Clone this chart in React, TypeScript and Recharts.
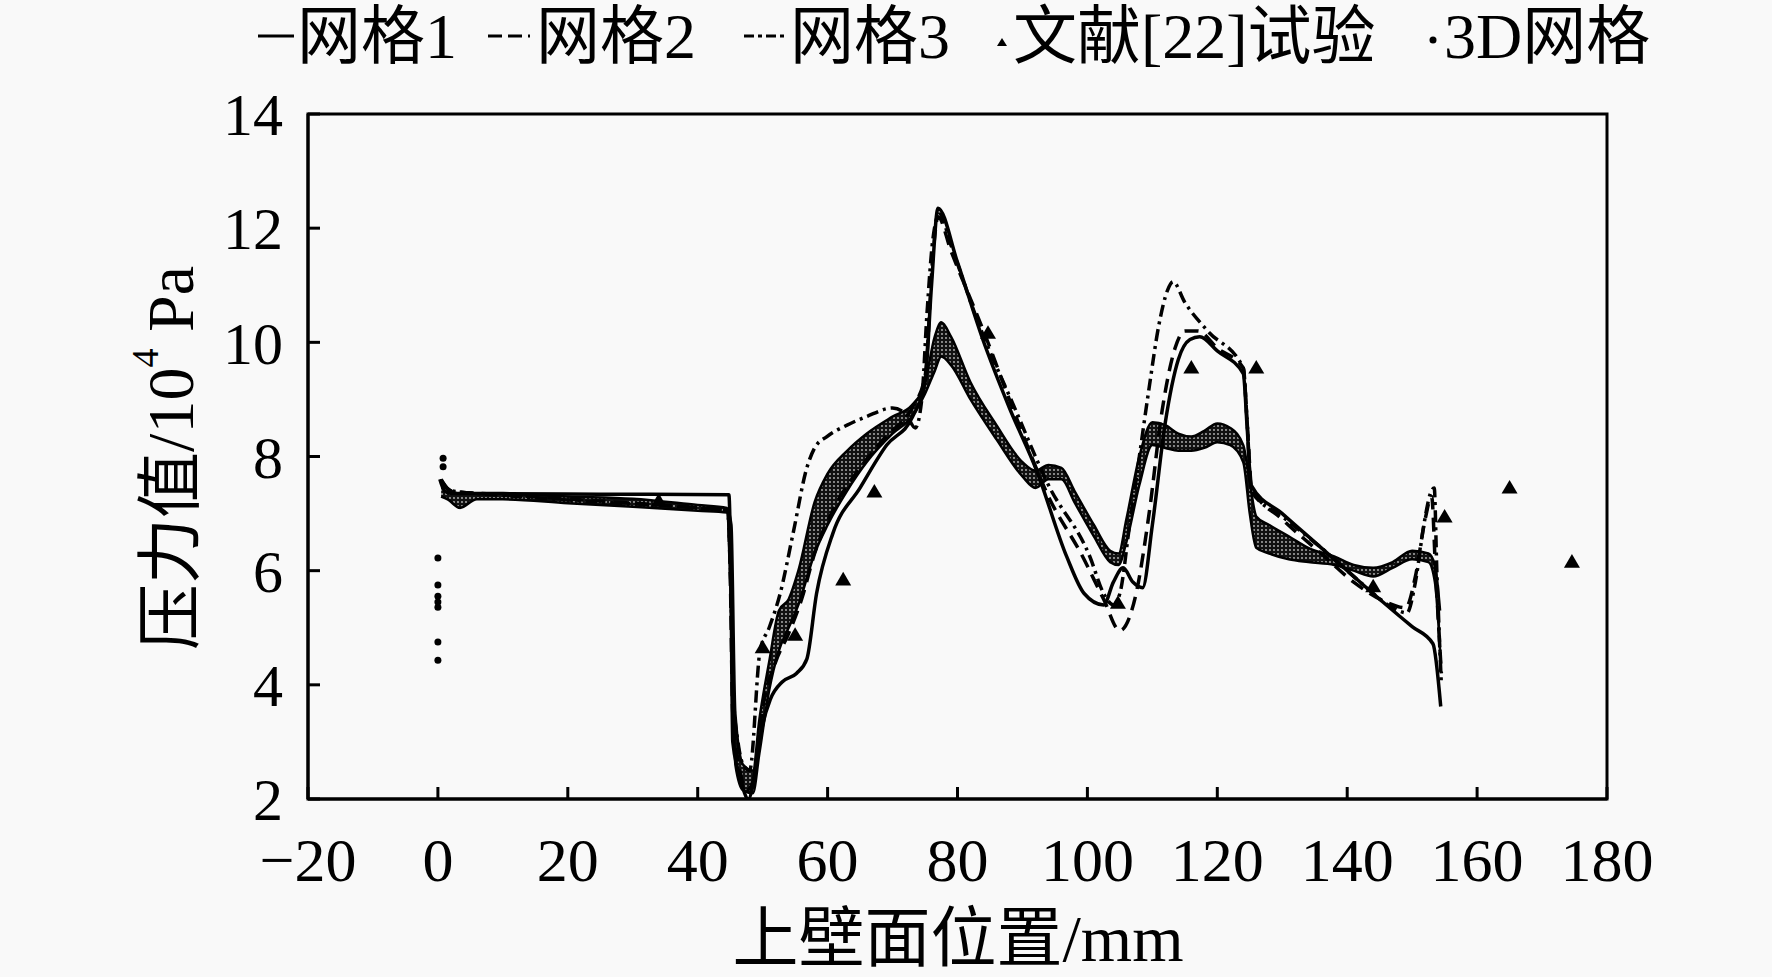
import React from 'react';
import {
  Area,
  ComposedChart,
  Line,
  ReferenceArea,
  Scatter,
  XAxis,
  YAxis,
} from 'recharts';

document.body.style.margin = '0';

const SERIF = "'Liberation Serif', 'Times New Roman', 'Noto Sans CJK SC', serif";

const xTicks = [-20, 0, 20, 40, 60, 80, 100, 120, 140, 160, 180];
const yTicks = [2, 4, 6, 8, 10, 12, 14];

// 网格1 — solid
const mesh1: [number, number][] = [
  [0.3, 7.6], [1, 7.4], [2, 7.35], [10, 7.35], [25, 7.34], [44.8, 7.33],
  [45.1, 6.0], [45.4, 3.0], [46.5, 2.4], [47.8, 2.0], [49, 2.6], [50, 3.3],
  [51.2, 3.75], [53, 4.05], [55.2, 4.2], [56.8, 4.45], [58.3, 5.6], [60.8, 6.65],
  [65, 7.45], [69.1, 8.2], [73.1, 8.7], [75, 9.3], [76, 11.0], [77, 12.35],
  [80, 11.4], [83.9, 10.05], [88, 8.85], [92.2, 7.75], [96.8, 6.25], [99.5, 5.6],
  [102.5, 5.4], [104, 5.8], [105.5, 6.05], [107, 5.8], [108.5, 5.7], [110, 6.8],
  [112, 8.6], [114, 9.7], [115.8, 10.05], [117.3, 10.1], [120, 9.85], [124, 9.45],
  [124.6, 8.5], [125.2, 7.5], [130, 7.0], [135, 6.5], [140, 6.0], [145, 5.5],
  [150, 5.02], [153.2, 4.72], [154.4, 3.62],
];

// 网格2 — dashed
const mesh2: [number, number][] = [
  [0.5, 7.55], [2, 7.4], [10, 7.33], [25, 7.22], [40, 7.1], [44.6, 7.05],
  [45, 6.0], [45.4, 3.5], [46.5, 2.5], [47.5, 2.15], [48.5, 2.3], [50, 3.6],
  [52, 4.4], [54, 4.9], [56, 5.5], [58, 6.3], [61, 7.1], [65, 7.8], [69, 8.35],
  [73, 8.85], [75, 9.4], [76.2, 11.5], [77, 12.2], [79, 11.6], [84, 10.2],
  [89, 8.7], [94, 7.3], [99.3, 6.24], [102.5, 5.5], [105, 4.95], [107.5, 5.6],
  [109.5, 7.0], [111.5, 8.8], [113.5, 9.9], [115, 10.2], [117, 10.2], [120, 9.9],
  [124, 9.55], [124.6, 8.6], [125.3, 7.45], [130, 6.9], [136, 6.3], [141, 5.8],
  [146, 5.45], [149, 5.35], [150.5, 5.9], [152, 6.9], [153, 7.3], [153.6, 6.0],
  [154.5, 4.2],
];

// 网格3 — dash dot
const mesh3: [number, number][] = [
  [0.5, 7.6], [2, 7.4], [10, 7.32], [25, 7.2], [40, 7.1], [44.6, 7.05],
  [45, 6.2], [45.5, 3.8], [46.2, 3.0], [47, 2.6], [48, 2.5], [49.6, 4.6],
  [51, 5.0], [52.7, 5.6], [54.7, 6.66], [56.8, 7.8], [58, 8.15], [59.9, 8.35],
  [63, 8.55], [66, 8.7], [70, 8.85], [72, 8.75], [73.5, 8.5], [74.5, 9.0],
  [75.3, 10.5], [76.2, 11.8], [77.2, 12.25], [79, 11.7], [83, 10.4], [89, 8.8],
  [94, 7.5], [100.4, 6.24], [102.5, 5.6], [104, 5.4], [105, 5.6], [106.5, 6.8],
  [108, 8.0], [109.5, 9.2], [111, 10.3], [112.3, 10.9], [113.2, 11.06], [115, 10.7],
  [118.5, 10.2], [124, 9.55], [124.6, 8.6], [125.2, 7.4], [130, 6.95], [136, 6.4],
  [142, 5.8], [147, 5.35], [149.2, 5.26], [150.5, 5.8], [151.8, 6.8], [152.8, 7.35],
  [153.4, 7.45], [153.8, 6.0], [154.5, 4.0],
];

// 文献[22]试验
const experiment: [number, number][] = [
  [34, 7.22], [50, 4.65], [55, 4.87], [62.4, 5.84], [67.2, 7.38], [84.7, 10.16],
  [104.7, 5.43], [116, 9.55], [126, 9.55], [144, 5.72], [155, 6.94], [165, 7.45],
  [174.6, 6.15],
];

// 3D网格 band: x, low, high
const band3d: [number, number, number][] = [
  [0.5, 7.3, 7.6], [1.5, 7.25, 7.45], [3.4, 7.1, 7.35], [6, 7.25, 7.35],
  [10, 7.25, 7.35], [20, 7.18, 7.3], [30, 7.12, 7.26], [40, 7.05, 7.15],
  [44.5, 7.02, 7.1], [45.2, 5.0, 6.8], [45.8, 2.6, 3.5], [47, 2.15, 2.6],
  [48.5, 2.1, 2.5], [49.5, 2.8, 3.4], [51, 3.9, 4.4], [52.5, 4.6, 5.3],
  [54, 5.0, 5.5], [55.5, 5.4, 6.0], [58, 6.3, 7.2], [60, 6.8, 7.7],
  [63, 7.4, 8.1], [66, 7.9, 8.4], [70, 8.4, 8.7], [73, 8.7, 8.9],
  [75, 9.1, 9.3], [76.5, 9.5, 10.1], [77.5, 9.75, 10.35], [79, 9.6, 10.1],
  [82, 9.0, 9.3], [86, 8.3, 8.55], [90, 7.65, 7.9], [92, 7.45, 7.75],
  [94, 7.6, 7.85], [96, 7.6, 7.8], [98, 7.2, 7.4], [101, 6.6, 6.8],
  [103.5, 6.15, 6.35], [104.8, 6.1, 6.3], [106, 6.5, 6.9], [108, 7.5, 8.0],
  [110, 8.2, 8.6], [112, 8.15, 8.55], [114, 8.1, 8.4], [116, 8.1, 8.35],
  [118, 8.15, 8.45], [120, 8.25, 8.58], [122, 8.2, 8.5], [124, 7.9, 8.2],
  [125, 7.0, 7.55], [126, 6.4, 6.95], [128, 6.3, 6.8], [131, 6.2, 6.6],
  [134, 6.15, 6.4], [138, 6.1, 6.25], [141, 6.0, 6.1], [144, 5.9, 6.05],
  [147, 6.05, 6.15], [150, 6.2, 6.35], [152.5, 6.15, 6.3], [153.5, 5.8, 6.1],
  [154.3, 4.6, 5.3],
];

// 3D网格 stray points near the inlet
const points3d: [number, number][] = [
  [0, 4.43], [0, 4.75], [0, 5.36], [0, 5.45], [0, 5.55], [0, 5.75], [0, 6.22],
  [0.8, 7.82], [0.8, 7.97],
];

const toPts = (a: [number, number][]) => a.map(([x, y]) => ({ x, y }));
const bandPts = band3d.map(([x, lo, hi]) => ({ x, band: [lo, hi] }));

const Triangle = (props: any) => {
  const { cx, cy } = props;
  if (cx == null || cy == null) return null;
  const s = 8;
  return <polygon points={`${cx},${cy - s} ${cx - s},${cy + s * 0.7} ${cx + s},${cy + s * 0.7}`} fill="#000" />;
};

const Dot = (props: any) => {
  const { cx, cy } = props;
  if (cx == null || cy == null) return null;
  return <circle cx={cx} cy={cy} r={3.5} fill="#000" />;
};

const fmtX = (v: number) => (v < 0 ? `\u2212${-v}` : `${v}`);

function ChartLegend() {
  const y = 36;
  const textStyle: React.CSSProperties = { fontFamily: SERIF, fontSize: 64, fill: '#000' };
  return (
    <svg width={1772} height={80} style={{ position: 'absolute', top: 0, left: 0 }}>
      <line x1={258} x2={294} y1={y} y2={y} stroke="#000" strokeWidth={3} />
      <text x={297} y={y} dominantBaseline="central" style={textStyle}>网格1</text>
      <line x1={488} x2={530} y1={y} y2={y} stroke="#000" strokeWidth={3} strokeDasharray="14 6" />
      <text x={536} y={y} dominantBaseline="central" style={textStyle}>网格2</text>
      <line x1={744} x2={788} y1={y} y2={y} stroke="#000" strokeWidth={3} strokeDasharray="10 4 4 4" />
      <text x={790} y={y} dominantBaseline="central" style={textStyle}>网格3</text>
      <polygon points={`1002,${y + 2} 997,${y + 10} 1007,${y + 10}`} fill="#000" />
      <text x={1013} y={y} dominantBaseline="central" style={textStyle}>文献[22]试验</text>
      <circle cx={1433} cy={y + 4} r={3.5} fill="#000" />
      <text x={1444} y={y} dominantBaseline="central" style={textStyle}>3D网格</text>
    </svg>
  );
}

export default function App() {
  return (
    <div style={{ position: 'relative', width: 1772, height: 977, background: '#f9f9f9' }}>
      <ComposedChart
        width={1772}
        height={977}
        margin={{ top: 114, right: 165, bottom: 118, left: 228 }}
      >
        <defs>
          <pattern id="dots3d" width="4" height="4" patternUnits="userSpaceOnUse">
            <rect width="4" height="4" fill="#111" />
            <circle cx="2" cy="2" r="0.9" fill="#bbb" />
          </pattern>
        </defs>
        <XAxis
          type="number"
          dataKey="x"
          domain={[-20, 180]}
          ticks={xTicks}
          allowDataOverflow
          tickFormatter={fmtX}
          tickSize={-12}
          tickMargin={50}
          height={60}
          axisLine={{ stroke: '#000', strokeWidth: 3 }}
          tickLine={{ stroke: '#000', strokeWidth: 3 }}
          tick={{ fill: '#000', fontSize: 62, fontFamily: SERIF }}
          label={{
            content: () => (
              <text x={958} y={938} textAnchor="middle" dominantBaseline="central"
                style={{ fontFamily: SERIF, fontSize: 66, fill: '#000' }}>
                上壁面位置/mm
              </text>
            ),
          }}
        />
        <YAxis
          type="number"
          dataKey="y"
          domain={[2, 14]}
          ticks={yTicks}
          allowDataOverflow
          tickSize={-12}
          tickMargin={37}
          width={80}
          axisLine={{ stroke: '#000', strokeWidth: 3 }}
          tickLine={{ stroke: '#000', strokeWidth: 3 }}
          tick={{ fill: '#000', fontSize: 60, fontFamily: SERIF }}
          label={{
            content: () => (
              <text x={170} y={458} textAnchor="middle" dominantBaseline="central"
                transform="rotate(-90 170 458)"
                style={{ fontFamily: SERIF, fontSize: 66, fill: '#000' }}>
                压力值/10<tspan fontSize={38} dy={-25}>4</tspan><tspan dy={25}> Pa</tspan>
              </text>
            ),
          }}
        />
        <ReferenceArea x1={-20} x2={180} y1={2} y2={14} fill="none" stroke="#000" strokeWidth={3} ifOverflow="visible" />
        <Area
          data={bandPts}
          dataKey="band"
          type="monotone"
          fill="url(#dots3d)"
          fillOpacity={1}
          stroke="#000"
          strokeWidth={2.5}
          isAnimationActive={false}
          name="3D网格"
        />
        <Scatter data={toPts(points3d)} shape={Dot} isAnimationActive={false} name="3D网格点" />
        <Line data={toPts(mesh1)} dataKey="y" type="monotone" stroke="#000" strokeWidth={3.5} dot={false} isAnimationActive={false} name="网格1" />
        <Line data={toPts(mesh2)} dataKey="y" type="monotone" stroke="#000" strokeWidth={3.5} strokeDasharray="14 8" dot={false} isAnimationActive={false} name="网格2" />
        <Line data={toPts(mesh3)} dataKey="y" type="monotone" stroke="#000" strokeWidth={3.5} strokeDasharray="12 5 3 5" dot={false} isAnimationActive={false} name="网格3" />
        <Scatter data={toPts(experiment)} shape={Triangle} isAnimationActive={false} name="文献[22]试验" />
      </ComposedChart>
      <ChartLegend />
    </div>
  );
}
